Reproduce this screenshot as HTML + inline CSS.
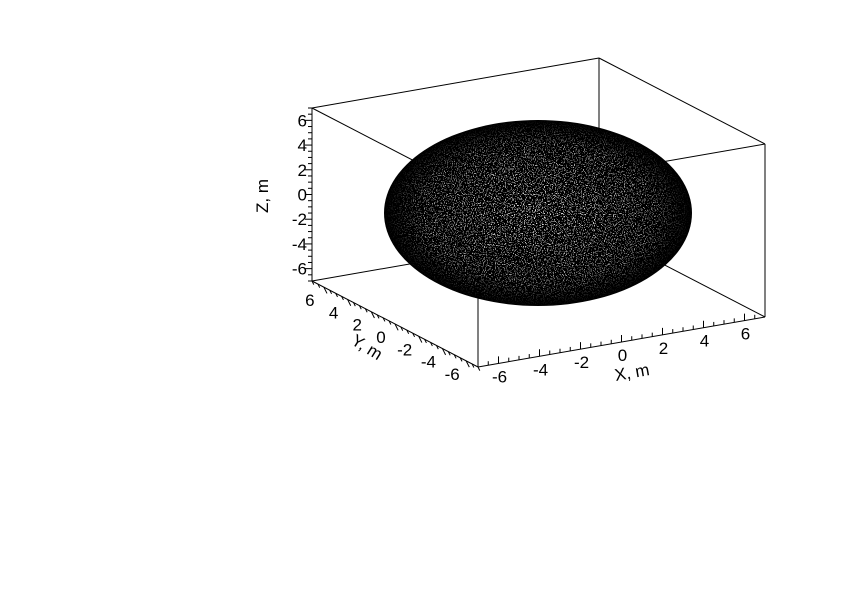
<!DOCTYPE html>
<html><head><meta charset="utf-8"><style>
html,body{margin:0;padding:0;background:#fff;}
svg{display:block;font-family:"Liberation Sans",sans-serif;}
</style></head><body>
<svg id="chart" width="842" height="595" viewBox="0 0 842 595" xmlns="http://www.w3.org/2000/svg">
<defs>
<filter id="speck" x="0" y="0" width="100%" height="100%">
<feTurbulence type="fractalNoise" baseFrequency="0.9" numOctaves="1" seed="3" result="n"/>
<feColorMatrix type="matrix" values="0 0 0 0 1  0 0 0 0 1  0 0 0 0 1  1 0 0 0 0" in="n" result="a"/>
<feComponentTransfer in="a"><feFuncA type="discrete" tableValues="0 0 0 0 0 0 1 1 1 1"/></feComponentTransfer>
</filter>
<clipPath id="ell"><ellipse cx="538" cy="213" rx="154" ry="93"/></clipPath>
<radialGradient id="fade" cx="0.5" cy="0.5" r="0.5">
<stop offset="0" stop-color="#fff"/><stop offset="0.75" stop-color="#999"/><stop offset="1" stop-color="#000"/>
</radialGradient>
<mask id="m"><ellipse cx="538" cy="213" rx="154" ry="93" fill="url(#fade)"/></mask>
</defs>
<g id="box" stroke="#000" stroke-width="1" fill="none"></g>
<g id="sphere">
<ellipse cx="538" cy="213" rx="154" ry="93" fill="#000"/>
<g clip-path="url(#ell)" mask="url(#m)"><rect x="380" y="115" width="320" height="200" filter="url(#speck)" opacity="0.9"/></g>
</g>
<g id="axes"></g>
</svg>
<script>
const xTicks=[-6,-4,-2,0,2,4,6];
const yTicks=[-6,-4,-2,0,2,4,6];
const zTicks=[-6,-4,-2,0,2,4,6];
const range=[-7,7];
function P(x,y,z){
  const fx=(x-range[0])/14, fy=(y-range[0])/14, fz=(z-range[0])/14;
  return [478+fx*287-fy*166, 367-fx*50-fy*86-fz*173];
}
const NS="http://www.w3.org/2000/svg";
function mk(tag,attrs,parent){const e=document.createElementNS(NS,tag);for(const k in attrs)e.setAttribute(k,attrs[k]);parent.appendChild(e);return e;}
const box=document.getElementById('box');
const c=[];
for(const x of range)for(const y of range)for(const z of range)c.push([x,y,z]);
for(let i=0;i<8;i++)for(let j=i+1;j<8;j++){
  const a=c[i],b=c[j];let d=0;for(let k=0;k<3;k++)if(a[k]!==b[k])d++;
  if(d===1){const p=P(a[0],a[1],a[2]),q=P(b[0],b[1],b[2]);
    const l=mk('line',{x1:p[0],y1:p[1],x2:q[0],y2:q[1]},box);
    
    }
}
const ax=document.getElementById('axes');
function line(p,q,name){const l=mk('line',{x1:p[0],y1:p[1],x2:q[0],y2:q[1],stroke:'#000','stroke-width':1},ax);
  
  }
function text(x,y,s,anchor,name,rot){const t=mk('text',{x:x,y:y,'font-size':17,'text-anchor':anchor},ax);t.textContent=s;
  if(rot)t.setAttribute('transform','rotate('+rot+' '+x+' '+y+')');
  
  }
for(let v=-7;v<=7.001;v+=0.5){
  const maj=Math.abs(v%2)<1e-6;
  const L=maj?7:4;
  let p=P(-7,7,v);line(p,[p[0]-L,p[1]],'z-tick');
  p=P(v,-7,-7);line(p,[p[0],p[1]-L],'x-tick');
  p=P(-7,v,-7);line(p,[p[0]+L*0.45,p[1]+L*0.9],'y-tick');
}
zTicks.forEach(v=>{const p=P(-7,7,v);text(p[0]-5,p[1]+6,String(v),'end','z-tick-label');});
xTicks.forEach(v=>{const p=P(v,-7,-7);text(p[0]+1,p[1]+19,String(v),'middle','x-tick-label');});
yTicks.forEach(v=>{const p=P(-7,v,-7);text(p[0]-14,p[1]+19,String(v),'middle','y-tick-label');});
text(268,196,'Z, m','middle','z-axis-title',-90);
text(633,378,'X, m','middle','x-axis-title',-10);
text(364,352,'Y, m','middle','y-axis-title',32);
</script>
</body></html>
